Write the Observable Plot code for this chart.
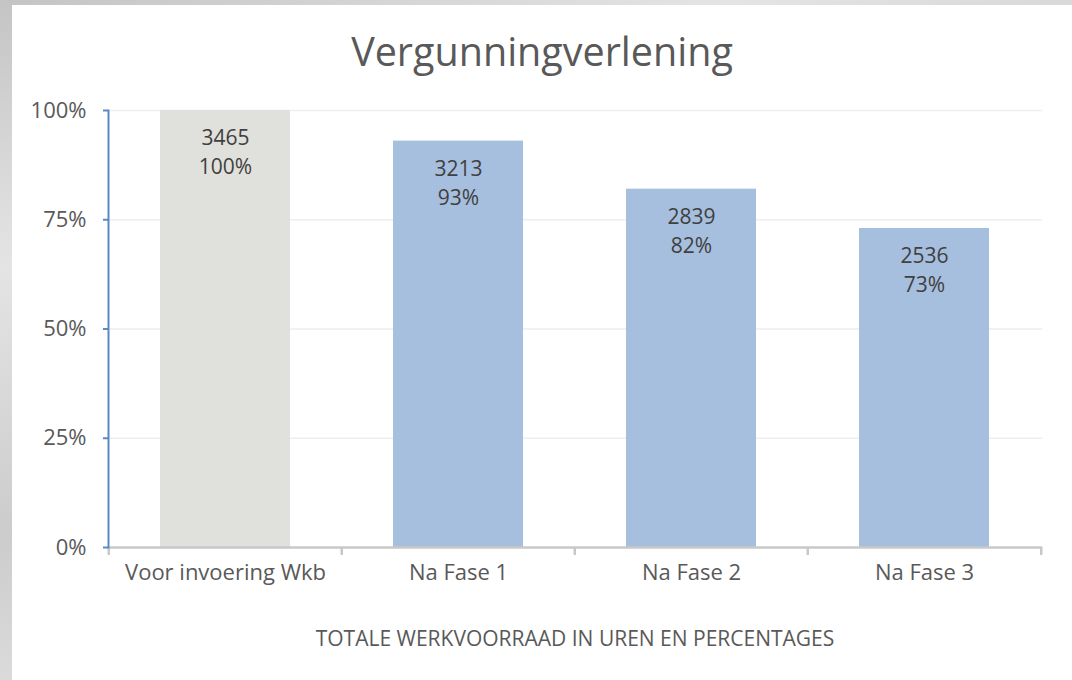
<!DOCTYPE html>
<html>
<head>
<meta charset="utf-8">
<script src="https://cdn.jsdelivr.net/npm/d3@7"></script>
<script src="https://cdn.jsdelivr.net/npm/@observablehq/plot@0.6"></script>
<style>
  html, body { margin: 0; padding: 0; }
  body {
    width: 1072px; height: 680px; overflow: hidden; position: relative;
    background: linear-gradient(160deg, #c4c4c4 0%, #e4e4e4 25%, #cccccc 50%, #e6e6e6 75%, #c8c8c8 100%);
    font-family: "Open Sans", sans-serif;
  }
  #panel { position: absolute; left: 12px; top: 5px; width: 1060px; height: 675px; background: #fff; }
  #title { position: absolute; left: 0; top: 27px; width: 1060px; text-align: center;
    font-size: 39.5px; line-height: 39.5px; color: #595959; }
  #chart { position: absolute; left: 0; top: 85px; }
  #caption { position: absolute; left: 96px; width: 934px; top: 623px; text-align: center;
    font-size: 21px; line-height: 21px; color: #595959; }
</style>
</head>
<body>
<div id="panel">
  <div id="title">Vergunningverlening</div>
  <div id="chart"></div>
  <div id="caption">TOTALE WERKVOORRAAD IN UREN EN PERCENTAGES</div>
</div>
<script>
const categories = ["Voor invoering Wkb", "Na Fase 1", "Na Fase 2", "Na Fase 3"];
const hours = [3465, 3213, 2839, 2536];
const percents = [100, 93, 82, 73];
const yTicks = [0, 25, 50, 75, 100];

const data = categories.map((c, i) => ({category: c, hours: hours[i], pct: percents[i]}));

const W = 1060, H = 510, ML = 96, MR = 30, MT = 20, MB = 53;
const step = (W - ML - MR) / categories.length;
const grayFill = "#E0E0DC", blueFill = "#A7BFDE";

const plot = Plot.plot({
  width: W, height: H,
  marginLeft: ML, marginRight: MR, marginTop: MT, marginBottom: MB,
  style: {fontFamily: "Open Sans", background: "transparent", overflow: "visible"},
  x: {domain: categories, paddingInner: 0.44, paddingOuter: 0.22, label: null},
  y: {domain: [0, 100], label: null},
  marks: [
    Plot.ruleY(yTicks.filter(t => t > 0), {stroke: "#EEEEEE", strokeWidth: 1.5}),
    Plot.barY(data, {x: "category", y: "pct", fill: d => d.category === categories[0] ? grayFill : blueFill}),
    Plot.text(data, {x: "category", y: "pct", text: d => String(d.hours), dy: 28, fontSize: 21, fill: "#404040"}),
    Plot.text(data, {x: "category", y: "pct", text: d => d.pct + "%", dy: 57, fontSize: 21, fill: "#404040"}),
    Plot.ruleY([0], {stroke: "#C8C8C8", strokeWidth: 2.5}),
    Plot.ruleX(categories, {x: d => d, y1: 0, y2: 0, insetBottom: -8, dx: -step / 2, stroke: "#C8C8C8", strokeWidth: 2.5}),
    Plot.ruleX(categories.slice(-1), {x: d => d, y1: 0, y2: 0, insetBottom: -8, dx: step / 2, stroke: "#C8C8C8", strokeWidth: 2.5}),
    Plot.frame({anchor: "left", stroke: "#5A8AC6", strokeWidth: 2}),
    Plot.axisY({ticks: yTicks, tickFormat: d => d + "%", tickSize: 5, tickPadding: 17, stroke: "#5A8AC6", strokeWidth: 2, fill: "#595959", fontSize: 22, label: null}),
    Plot.axisX({tickSize: 0, tickPadding: 17, fill: "#595959", fontSize: 22, label: null})
  ]
});
document.getElementById("chart").appendChild(plot);
</script>
</body>
</html>
